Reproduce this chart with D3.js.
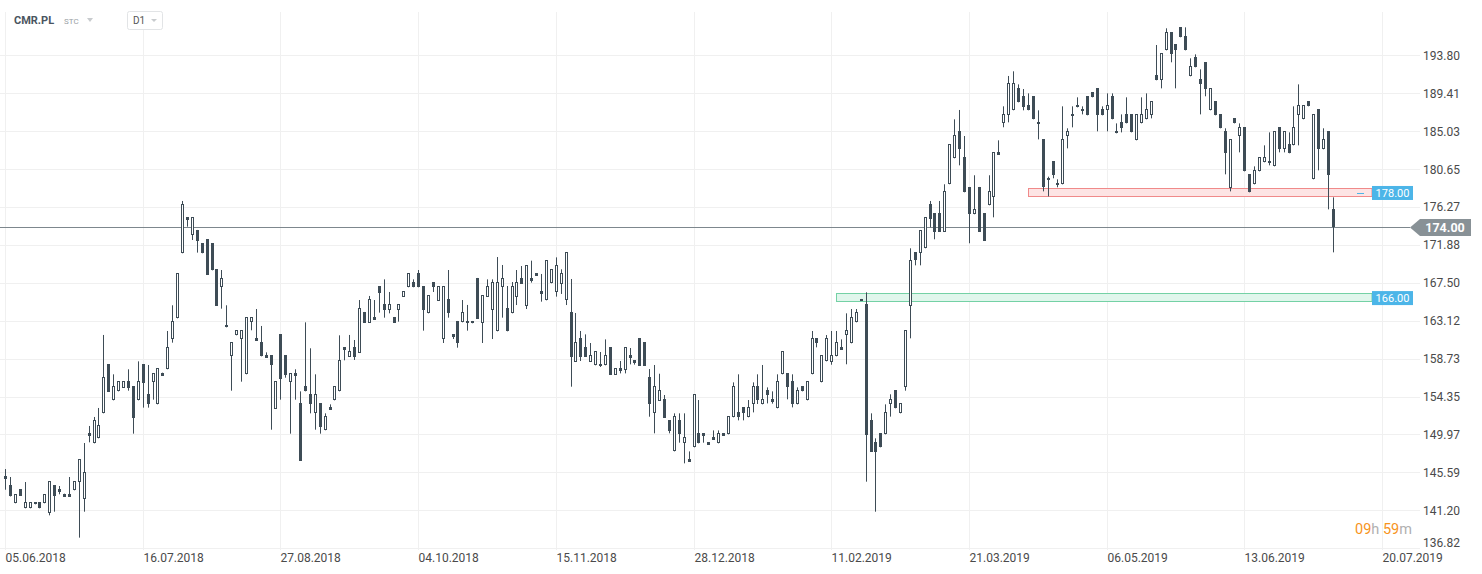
<!DOCTYPE html>
<html><head><meta charset="utf-8">
<script src="https://cdnjs.cloudflare.com/ajax/libs/d3/7.8.5/d3.min.js"></script>
<style>
html,body{margin:0;padding:0;background:#fff;}
svg{display:block;font-family:Roboto,"Noto Sans",Arial,sans-serif;}
</style></head><body>
<svg id="c" width="1482" height="574"></svg>
<script>
const symbol = "CMR.PL";
const dateLabels = ["05.06.2018","16.07.2018","27.08.2018","04.10.2018","15.11.2018","28.12.2018","11.02.2019","21.03.2019","06.05.2019","13.06.2019","20.07.2019"];
const dateIndex = [0,28,56,84,112,140,168,196,224,252,280];
const priceTicks = [193.80,189.41,185.03,180.65,176.27,171.88,167.50,163.12,158.73,154.35,149.97,145.59,141.20,136.82];
const open = [145.20,144.12,142.01,143.66,141.43,141.43,142.16,142.16,142.01,140.93,144.12,143.66,143.12,143.12,143.51,144.43,142.47,150.14,148.94,149.52,152.41,158.11,153.91,154.95,155.38,156.11,155.57,153.91,158.11,154.65,155.99,153.45,157.11,157.50,160.97,163.39,170.91,175.07,172.99,173.61,172.06,172.53,172.06,169.06,166.98,162.62,159.04,161.43,160.97,156.92,162.93,161.08,160.62,159.12,159.12,152.95,161.54,159.12,155.99,157.04,153.57,155.53,154.61,152.41,153.57,150.45,153.10,153.91,154.95,160.04,158.96,160.04,159.43,164.13,162.89,163.55,167.13,165.05,164.40,163.55,164.40,165.90,166.98,167.59,168.60,167.13,163.97,167.59,165.44,160.97,165.59,161.58,163.09,162.93,163.09,163.09,168.06,162.89,165.90,164.40,161.89,166.98,164.55,163.97,165.90,168.02,164.86,168.02,168.59,166.51,165.47,167.44,166.40,167.40,165.47,164.12,158.38,161.08,160.04,158.38,157.96,158.11,157.96,160.04,156.88,157.61,157.46,159.11,158.54,161.12,160.62,156.57,152.41,153.87,154.07,151.64,148.01,151.60,148.94,147.09,148.48,150.10,150.10,149.06,149.63,148.94,150.10,149.98,151.95,152.52,153.10,151.95,153.45,155.53,153.45,155.07,154.03,152.99,156.92,157.03,156.11,153.45,155.53,153.91,156.92,161.08,155.99,158.42,158.38,159.00,160.04,161.43,160.50,162.93,165.63,165.01,151.64,149.06,150.10,149.98,153.45,155.07,152.41,155.42,164.86,171.03,170.91,171.49,176.57,175.53,175.53,173.41,178.89,181.89,185.05,182.01,178.58,175.42,178.58,175.53,176.46,177.38,182.59,185.94,186.86,187.44,189.98,189.06,188.01,189.06,186.05,184.08,179.58,181.54,179.00,178.88,184.43,186.97,188.01,187.55,189.06,189.52,189.98,187.55,187.44,189.06,185.01,186.05,186.97,186.97,183.97,185.93,186.40,186.86,191.48,190.91,194.37,196.45,195.07,197.03,195.99,191.37,193.56,191.02,192.99,187.44,188.48,186.97,185.01,178.42,186.51,184.43,185.47,180.04,178.88,180.38,181.43,181.54,180.96,185.47,182.93,183.51,183.39,186.86,186.40,188.48,179.46,187.55,182.93,185.01,175.99];
const high = [145.97,145.05,143.08,143.66,144.47,142.12,142.16,142.16,143.08,144.55,144.12,144.01,143.12,145.05,144.55,147.09,148.98,150.95,151.99,153.03,161.47,158.11,156.92,156.11,156.11,157.50,155.57,158.42,158.11,158.00,157.03,157.61,157.11,161.93,164.90,168.60,176.96,175.07,175.07,173.61,172.06,172.53,172.06,169.06,168.98,164.90,160.62,162.01,162.01,163.51,163.51,164.47,162.51,159.46,159.12,156.11,161.54,159.12,157.04,157.50,154.95,162.93,159.93,156.92,153.57,152.41,153.45,155.53,161.43,160.04,161.47,160.89,165.51,164.13,165.98,165.51,167.13,167.90,166.44,163.55,165.05,166.55,168.60,167.90,168.98,167.13,166.05,167.59,167.13,167.13,168.98,161.58,163.09,165.51,164.94,163.09,168.06,166.05,167.90,167.90,170.48,169.56,167.13,167.59,168.98,169.44,169.52,170.06,168.59,168.52,170.10,169.06,170.44,169.06,171.02,167.94,164.01,161.93,161.54,160.54,159.58,159.50,160.96,160.04,157.61,158.46,160.04,159.96,158.54,161.12,160.62,157.53,158.00,156.99,154.53,151.64,152.41,152.41,152.41,148.01,154.60,153.95,150.10,149.06,150.44,150.44,150.10,152.06,155.99,156.92,153.10,153.95,155.99,156.92,158.00,155.41,154.95,156.92,159.58,157.03,156.92,155.41,155.53,156.11,161.93,161.08,159.11,161.46,161.93,161.93,160.96,163.97,164.47,164.47,165.63,166.40,152.41,149.52,150.10,153.45,154.61,155.07,153.57,162.01,171.49,171.03,173.57,175.07,176.96,175.53,176.96,178.89,183.51,186.40,187.48,184.47,178.58,179.93,178.58,175.53,179.93,182.59,183.97,187.90,191.41,191.95,190.44,189.90,189.40,189.06,187.44,184.08,179.77,181.54,179.46,187.90,185.36,187.90,188.94,187.90,189.06,189.52,189.98,187.90,189.40,189.40,185.93,186.97,188.94,186.97,186.97,188.94,189.40,188.48,194.99,194.03,196.92,196.45,195.07,197.03,197.03,193.45,193.91,192.18,192.99,189.98,188.48,186.97,185.36,184.08,186.51,185.93,185.47,180.04,180.96,182.00,183.39,184.89,185.01,185.47,185.01,184.89,187.90,190.44,188.01,188.48,186.97,187.55,185.36,185.01,177.38];
const low = [143.58,142.80,142.01,142.89,141.43,141.43,141.89,141.43,142.01,140.62,141.04,143.05,142.78,142.78,143.51,138.04,141.04,149.06,148.94,149.52,152.41,154.91,153.91,154.95,155.38,155.03,150.06,153.91,153.07,153.07,153.99,153.45,156.76,157.50,160.58,163.39,170.91,173.99,172.45,170.99,170.91,168.44,168.94,164.86,164.51,162.35,155.03,161.43,156.07,156.92,162.01,160.81,159.00,158.85,150.52,152.95,153.99,156.53,150.06,153.99,146.94,154.95,152.41,150.52,150.06,150.45,152.84,153.91,154.95,158.54,158.96,158.58,159.43,162.89,162.89,163.24,164.05,163.47,163.97,162.89,163.01,165.90,166.98,166.98,166.98,161.97,163.97,166.44,165.44,160.54,163.47,161.00,160.00,162.93,161.97,162.82,163.36,160.54,165.90,161.00,161.89,163.47,161.89,163.97,164.93,167.40,164.47,167.52,168.32,165.32,165.47,167.44,165.90,166.21,164.93,155.49,158.38,158.46,158.96,158.38,157.96,157.77,157.96,156.88,156.88,157.03,157.03,158.07,158.04,157.92,157.92,152.02,150.10,153.87,151.90,150.10,148.01,149.02,146.63,146.82,148.48,148.94,149.02,148.79,149.36,148.94,149.83,149.98,151.95,151.60,151.60,151.95,152.52,153.49,153.45,153.56,153.53,152.99,156.92,154.03,153.10,153.45,154.95,153.91,156.92,160.04,155.99,158.42,158.03,159.00,159.77,158.08,160.50,162.93,165.44,144.51,147.98,141.04,148.48,149.98,152.03,152.99,152.41,155.03,161.08,169.52,169.52,171.49,173.92,172.53,173.41,173.41,178.89,181.89,181.08,177.96,172.07,175.42,173.41,172.37,176.46,175.07,182.32,185.48,186.05,187.44,188.36,187.44,187.44,186.40,184.08,178.07,177.49,179.58,178.54,178.88,183.04,185.47,187.78,186.97,186.86,188.94,185.01,186.86,185.01,186.40,184.78,184.89,185.93,184.89,183.97,185.93,186.40,186.51,190.91,189.98,194.37,192.99,189.98,195.88,194.37,191.37,192.41,186.97,189.06,187.44,186.86,185.36,180.04,178.07,185.93,182.58,180.38,177.96,178.88,180.38,181.43,181.08,180.96,182.58,182.58,182.47,183.39,183.39,186.40,187.90,179.46,180.50,182.93,175.99,171.02];
const close = [144.86,142.89,143.08,142.89,142.12,142.12,141.89,141.43,143.08,144.55,142.89,143.35,142.78,142.78,144.55,147.09,145.59,149.83,151.64,151.02,156.57,154.91,155.57,156.11,156.11,155.38,151.91,156.11,155.96,153.45,157.03,157.61,156.76,160.04,163.09,168.60,176.57,174.80,175.07,172.37,170.91,168.44,168.94,164.86,168.02,162.35,160.62,162.01,162.01,163.51,163.51,160.81,159.00,158.85,157.96,156.11,156.42,156.88,157.04,156.77,146.94,154.95,153.45,154.61,150.87,152.06,152.84,155.53,158.54,159.77,159.62,158.96,164.55,162.89,165.59,163.24,166.36,164.40,165.05,162.89,165.05,166.55,168.60,166.98,166.98,164.40,166.05,166.98,167.13,167.13,163.97,161.27,160.50,164.13,162.82,162.82,163.36,166.05,167.13,167.59,167.59,168.06,161.89,167.13,167.55,167.40,169.52,167.75,168.32,166.24,170.10,169.06,169.52,168.59,171.02,158.96,160.62,158.96,158.96,159.11,159.58,157.84,159.11,156.88,157.61,157.34,160.04,158.84,158.27,157.92,157.92,153.45,155.57,155.11,151.90,150.40,152.06,149.98,149.63,146.82,154.60,148.94,149.83,148.79,149.36,150.10,149.83,152.06,155.53,151.95,152.41,153.10,155.53,153.91,154.03,154.49,153.76,156.11,159.58,155.41,153.45,155.07,154.95,156.11,161.08,160.50,159.11,161.08,159.11,160.62,159.77,162.01,163.51,164.09,165.44,149.95,147.98,147.98,148.48,152.53,154.03,152.99,153.57,162.01,170.10,170.10,173.57,175.07,174.92,173.41,173.41,178.08,183.51,184.55,182.93,177.96,175.42,176.00,173.41,172.37,178.08,182.59,182.32,186.98,190.56,190.56,188.36,187.78,187.44,186.40,185.82,178.54,179.34,179.92,178.77,184.08,185.01,186.74,187.78,187.32,186.86,188.94,186.86,186.86,188.01,186.40,184.78,185.36,185.93,184.89,186.97,186.97,187.55,188.48,190.91,194.03,196.45,193.91,194.37,195.88,194.37,192.52,192.41,190.44,189.86,189.98,186.86,185.36,182.47,184.08,185.93,185.47,180.38,177.96,180.50,182.00,182.00,181.31,185.01,182.93,185.01,182.47,185.47,188.01,188.01,187.90,186.97,182.93,184.08,179.92,174.00];
const lastPrice = 174.00;
const zoneLevels = [178.00, 166.00];
const zoneBands = [[177.55,178.45],[165.40,166.30]];
const zoneStart = [208, 169];

const svg = d3.select("#c");
const x = d3.scaleLinear().domain([0,280]).range([5,1382]);
const y = d3.scaleLinear().domain([136.82,193.80]).range([548.2,55.3]);
const ink = "#3e4c56";

// grid
const g = svg.append("g");
g.selectAll(".hg").data(priceTicks).enter().append("line")
  .attr("x1",0).attr("x2",1420)
  .attr("y1",d=>Math.round(y(d))+0.5).attr("y2",d=>Math.round(y(d))+0.5)
  .attr("stroke","#f0f0f0").attr("stroke-width",1);
g.selectAll(".vg").data(dateIndex).enter().append("line")
  .attr("x1",d=>Math.round(x(d))+0.5).attr("x2",d=>Math.round(x(d))+0.5)
  .attr("y1",12).attr("y2",550)
  .attr("stroke","#f0f0f0").attr("stroke-width",1);

// zones
const zcol = [{fill:"#fde4e4",stroke:"#f08a8a"},{fill:"#e0f6ec",stroke:"#74d1a5"}];
zoneLevels.forEach((lv,i)=>{
  const y0 = y(zoneBands[i][1]), y1 = y(zoneBands[i][0]);
  const x0 = x(zoneStart[i]);
  svg.append("rect").attr("x",Math.round(x0)+0.5).attr("y",Math.round(y0)+0.5)
    .attr("width",1372-Math.round(x0)-0.5).attr("height",Math.round(y1-y0))
    .attr("fill",zcol[i].fill).attr("stroke",zcol[i].stroke).attr("stroke-width",1);
});
svg.append("line").attr("x1",1357).attr("x2",1364).attr("y1",193.5).attr("y2",193.5).attr("stroke","#4cb5e8");

// price line
const py = Math.round(y(lastPrice))+0.5;
svg.append("line").attr("x1",0).attr("x2",1410).attr("y1",py).attr("y2",py).attr("stroke","#7d878d").attr("stroke-width",1);

// candles
const idx = d3.range(open.length);
const cg = svg.append("g");
idx.forEach(i=>{
  const a = Math.round(x(i));
  const o=open[i], c=close[i], h=high[i], l=low[i];
  cg.append("line").attr("x1",a+0.5).attr("x2",a+0.5)
    .attr("y1",y(h)).attr("y2",y(l)).attr("stroke",ink).attr("stroke-width",1);
  const top = Math.round(y(Math.max(o,c))), bot = Math.round(y(Math.min(o,c)));
  if (c < o) {
    cg.append("rect").attr("x",a-1).attr("y",top).attr("width",3).attr("height",Math.max(2,bot-top)).attr("fill",ink);
  } else {
    cg.append("rect").attr("x",a-0.5).attr("y",top+0.5).attr("width",2).attr("height",Math.max(1,bot-top-1))
      .attr("fill","#fff").attr("stroke",ink).attr("stroke-width",1);
  }
});

// zone labels
zoneLevels.forEach((lv,i)=>{
  const cy = (y(zoneBands[i][0])+y(zoneBands[i][1]))/2 + 1;
  svg.append("rect").attr("x",1372).attr("y",cy-7).attr("width",41).attr("height",14).attr("fill","#4cb5e8");
  svg.append("text").attr("x",1392.5).attr("y",cy+4).attr("text-anchor","middle")
    .attr("fill","#fff").attr("font-size",11).text(lv.toFixed(2));
});

// y labels
svg.selectAll(".yl").data(priceTicks).enter().append("text")
  .attr("x",1423).attr("y",(d,i)=> i===priceTicks.length-1 ? y(d)-6+4.5 : y(d)+4.5)
  .attr("fill","#4a4a4a").attr("font-size",12).text(d=>d.toFixed(2));

// last price tag
svg.append("path").attr("d",`M1410,${py} L1420,${py-8.5} L1471,${py-8.5} L1471,${py+8.5} L1420,${py+8.5} Z`).attr("fill","#889196");
svg.append("text").attr("x",1445).attr("y",py+4.5).attr("text-anchor","middle")
  .attr("fill","#fff").attr("font-size",12.5).attr("font-weight","bold").text(lastPrice.toFixed(2));

// x labels
svg.selectAll(".xl").data(dateIndex).enter().append("text")
  .attr("x",d=>Math.round(x(d))+0.5).attr("y",562)
  .attr("fill","#4a4a4a").attr("font-size",12).text((d,i)=>dateLabels[i]);

// header
svg.append("text").attr("x",14).attr("y",24).attr("font-size",11).attr("font-weight","bold").attr("fill","#4a5560").text(symbol);
svg.append("text").attr("x",64).attr("y",24).attr("font-size",8).attr("fill","#9aa0a5").text("STC");
svg.append("path").attr("d","M87,18 L93,18 L90,22 Z").attr("fill","#c8cbce");
svg.append("rect").attr("x",127.5).attr("y",11.5).attr("width",35).attr("height",18).attr("rx",2).attr("fill","#fff").attr("stroke","#e2e4e6");
svg.append("text").attr("x",133).attr("y",24).attr("font-size",10).attr("fill","#555").text("D1");
svg.append("path").attr("d","M151,19 L157,19 L154,22 Z").attr("fill","#c8cbce");

// timer
const t = svg.append("text").attr("x",1355).attr("y",534).attr("font-size",14.5);
t.append("tspan").attr("fill","#f7941d").text("09");
t.append("tspan").attr("fill","#b0b0b0").text("h ");
t.append("tspan").attr("fill","#f7941d").text("59");
t.append("tspan").attr("fill","#b0b0b0").text("m");
</script></body></html>
